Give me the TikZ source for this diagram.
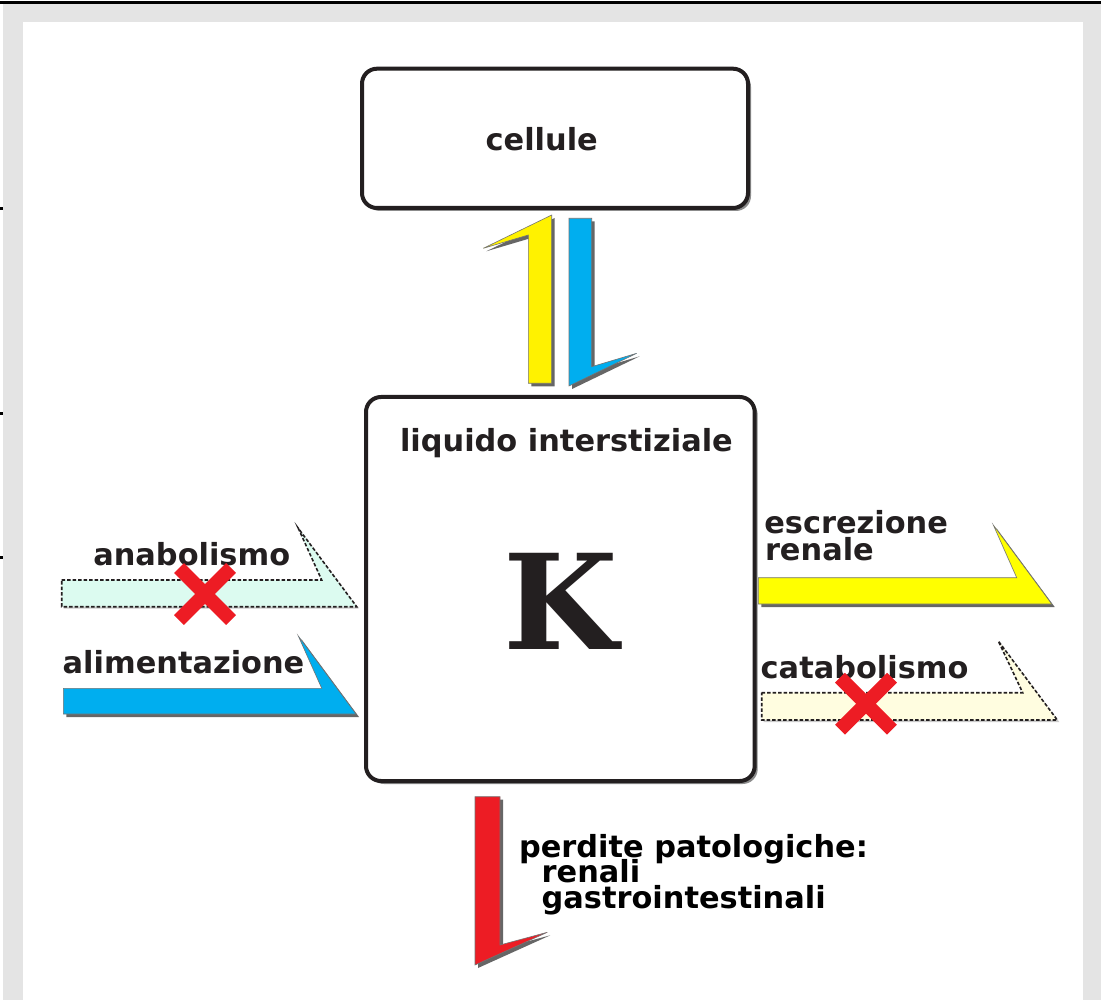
\documentclass[tikz,border=0pt]{standalone}
\usepackage{fontspec}
\usetikzlibrary{shadows,calc}
\newfontfamily\dvsans{DejaVu Sans}
\newfontfamily\dvserif{DejaVu Serif}
\definecolor{ink}{HTML}{231F20}
\definecolor{kred}{HTML}{ED1C24}
\definecolor{kblue}{HTML}{00AEEF}
\definecolor{kyellowA}{HTML}{FFF200}
\definecolor{kyellowB}{HTML}{FFFF00}
\definecolor{mint}{HTML}{DCFBF0}
\definecolor{cream}{HTML}{FFFDE0}
\definecolor{framegray}{HTML}{E4E4E4}
\tikzset{
  boxnode/.style={draw=ink, line width=4pt, rounded corners=15pt, fill=white,
    drop shadow={shadow xshift=3pt, shadow yshift=-3pt, opacity=0.6, fill=black!75}},
  solidarrow/.style={draw=black!55, line width=0.6pt,
    drop shadow={shadow xshift=3pt, shadow yshift=-3pt, opacity=0.7, fill=black!85}},
  dasharrow/.style={draw=ink, line width=1.6pt, dash pattern=on 3.5pt off 2pt,
    drop shadow={shadow xshift=2pt, shadow yshift=-2pt, opacity=0.35, fill=black!60}},
  lbl/.style={font=\dvsans\bfseries\fontsize{30.4}{26}\selectfont, text=ink, inner sep=0pt, outer sep=0pt},
  crossmark/.style={draw=kred, line width=14pt, line cap=butt},
}
\begin{document}
\begin{tikzpicture}[x=1pt,y=-1pt]
\useasboundingbox (0,0) rectangle (1101,1000);
% frame
\fill[framegray] (3,3) rectangle (1101,1000);
\fill[white] (22.7,22) rectangle (1083,1000);
\draw[line width=3pt] (0,2.5) -- (1101,2.5);
\fill (0,207.5) rectangle (3,210.5);
\fill (0,412) rectangle (3,415);
\fill (0,556) rectangle (3,559);

% boxes
\node[boxnode, minimum width=386pt, minimum height=139.3pt] (cellbox) at (555,138.35) {};
\node[boxnode, minimum width=388.7pt, minimum height=384pt] (liqbox) at (560.35,589) {};

\node[lbl, anchor=base] (cellule) at (541.7,150.7) {cellule};
\node[lbl, anchor=base west] (liquido) at (400,451.7) {liquido interstiziale};
\node[font=\dvserif\bfseries\fontsize{132}{132}\selectfont, text=ink, inner sep=0pt, anchor=base] (kappa) at (561,649.5) {K};

% up/down arrows between boxes
\filldraw[solidarrow, fill=kyellowA] (528.3,383.3) -- (551.7,383.3) -- (551.7,215) -- (483.3,248.3) -- (528.3,235) -- cycle;
\filldraw[solidarrow, fill=kblue] (569,218.3) -- (591.7,218.3) -- (591.7,366.7) -- (636.7,353.3) -- (569,386) -- cycle;

% left arrows
\filldraw[dasharrow, fill=mint] (61.7,580) -- (321.7,580) -- (298.3,528.3) -- (356.7,606.7) -- (61.7,606.7) -- cycle;
\node[lbl, anchor=base west] (anabolismo) at (93.3,565) {anabolismo};
\coordinate (xa) at (205,594);
\draw[crossmark] ($(xa)+(-26,-26)$) -- ($(xa)+(26,26)$);
\draw[crossmark] ($(xa)+(-26,26)$) -- ($(xa)+(26,-26)$);

\filldraw[solidarrow, fill=kblue] (63.3,688.3) -- (321.7,688.3) -- (298.3,636) -- (356,714) -- (63.3,714) -- cycle;
\node[lbl, anchor=base west] (alimentazione) at (62.7,673.3) {alimentazione};

% right arrows
\filldraw[solidarrow, fill=kyellowB] (758.3,577.7) -- (1016.7,577.7) -- (993.3,525) -- (1051.7,604) -- (758.3,604) -- cycle;
\node[lbl, anchor=base west] (escrezione) at (764.3,533.3) {escrezione};
\node[lbl, anchor=base west] (renale) at (765,560) {renale};

\filldraw[dasharrow, fill=cream] (761.7,692.7) -- (1022.7,692.7) -- (998.3,641) -- (1057.3,720) -- (761.7,720) -- cycle;
\node[lbl, anchor=base west] (catabolismo) at (760.7,678.3) {catabolismo};
\coordinate (xc) at (866,703.7);
\draw[crossmark] ($(xc)+(-26,-26)$) -- ($(xc)+(26,26)$);
\draw[crossmark] ($(xc)+(-26,26)$) -- ($(xc)+(26,-26)$);

% bottom arrow
\filldraw[solidarrow, fill=kred] (475,796.7) -- (500,796.7) -- (500,945) -- (547.3,932.3) -- (475,965) -- cycle;
\node[lbl, text=black, anchor=base west] (perdite) at (519,857.3) {perdite patologiche:};
\node[lbl, text=black, anchor=base west] (renali) at (541.7,882.3) {renali};
\node[lbl, text=black, anchor=base west] (gastro) at (541.7,908.3) {gastrointestinali};
\end{tikzpicture}
\end{document}
